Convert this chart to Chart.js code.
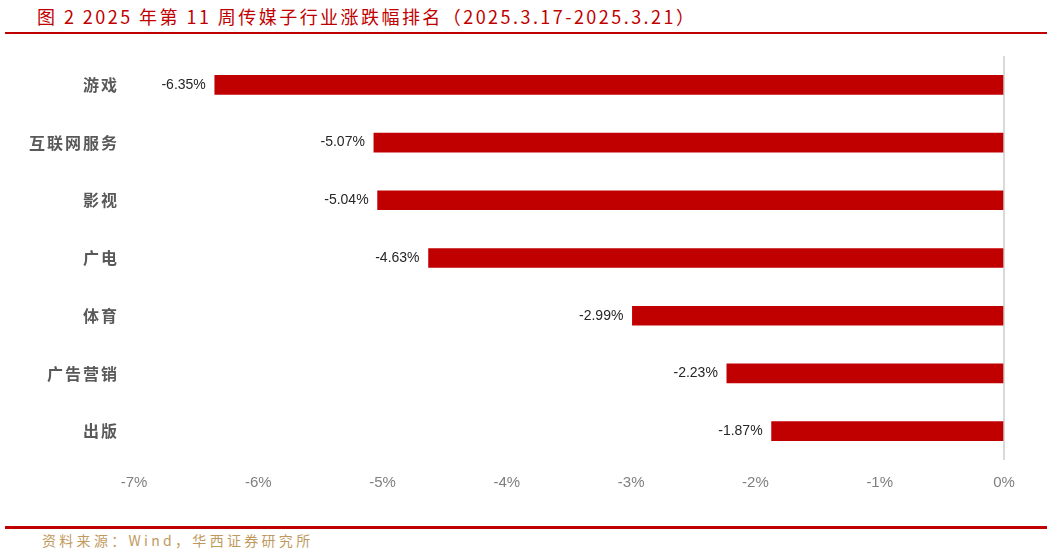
<!DOCTYPE html>
<html lang="zh">
<head>
    <meta charset="UTF-8" />
    <title>2025年第11周传媒子行业涨跌幅排名</title>
    <script src="https://cdn.jsdelivr.net/npm/chart.js"></script>
    <style>
        html, body {
            margin: 0;
            padding: 0;
            background: #fff;
            width: 1053px;
            height: 554px;
            overflow: hidden;
            position: relative;
            font-family: "Noto Sans CJK SC", sans-serif;
        }
        .title {
            position: absolute;
            left: 37px;
            top: 4px;
            font-size: 18px;
            letter-spacing: 2.45px;
            color: #C00000;
            white-space: nowrap;
            line-height: 24px;
        }
        .line-top {
            position: absolute;
            left: 5px;
            top: 32px;
            width: 1042px;
            height: 2px;
            background: #C00000;
        }
        .line-bottom {
            position: absolute;
            left: 5px;
            top: 526px;
            width: 1042px;
            height: 3px;
            background: #C00000;
        }
        .source {
            position: absolute;
            left: 42px;
            top: 530px;
            font-size: 14px;
            letter-spacing: 3.3px;
            color: #BF9A5E;
            white-space: nowrap;
            line-height: 20px;
        }
        .chart-box {
            position: absolute;
            left: 0;
            top: 40px;
            width: 1053px;
            height: 470px;
        }
    </style>
</head>
<body>
    <div class="title">图 2 2025 年第 11 周传媒子行业涨跌幅排名（2025.3.17-2025.3.21）</div>
    <div class="line-top"></div>
    <div class="chart-box"><canvas id="chart"></canvas></div>
    <div class="line-bottom"></div>
    <div class="source">资料来源：Wind，华西证券研究所</div>

    <script>
        const categories = ["游戏", "互联网服务", "影视", "广电", "体育", "广告营销", "出版"];
        const changes = [-6.35, -5.07, -5.04, -4.63, -2.99, -2.23, -1.87];
        const xTicks = [-7, -6, -5, -4, -3, -2, -1, 0];

        const narrow = "'Liberation Sans Narrow', 'Arial Narrow', sans-serif";

        // value labels left of each bar end, category names with some letter spacing
        const barText = {
            id: "barText",
            afterDatasetsDraw(chart) {
                const ctx = chart.ctx;
                const meta = chart.getDatasetMeta(0);
                ctx.save();
                ctx.textBaseline = "middle";
                ctx.textAlign = "right";
                ctx.font = "14px " + narrow;
                ctx.fillStyle = "#262626";
                meta.data.forEach((bar, i) => {
                    ctx.fillText(changes[i].toFixed(2) + "%", bar.x - 9, bar.y);
                });
                ctx.font = "bold 16px 'Noto Sans CJK SC', sans-serif";
                ctx.fillStyle = "#595959";
                ctx.letterSpacing = "2px";
                meta.data.forEach((bar, i) => {
                    ctx.fillText(categories[i], chart.chartArea.left - 15, bar.y);
                });
                ctx.restore();
            }
        };

        new Chart(document.getElementById("chart"), {
            type: "bar",
            data: {
                labels: categories,
                datasets: [{
                    data: changes,
                    backgroundColor: "#C00000",
                    barThickness: 19
                }]
            },
            options: {
                indexAxis: "y",
                responsive: true,
                maintainAspectRatio: false,
                animation: false,
                layout: { padding: { top: 16, right: 49, bottom: 10, left: 0 } },
                plugins: {
                    legend: { display: false },
                    tooltip: { enabled: false }
                },
                scales: {
                    x: {
                        min: -7,
                        max: 0,
                        afterBuildTicks(scale) {
                            scale.ticks = xTicks.map(v => ({ value: v }));
                        },
                        afterFit(scale) { scale.height = 40; },
                        grid: {
                            color: c => (c.tick && c.tick.value === 0) ? "#D9D9D9" : "rgba(0,0,0,0)",
                            lineWidth: 2,
                            drawTicks: false
                        },
                        border: { display: false },
                        ticks: {
                            padding: 14,
                            color: "#7F7F7F",
                            font: { size: 15, family: narrow },
                            callback: v => v + "%"
                        }
                    },
                    y: {
                        afterFit(scale) { scale.width = 134; },
                        grid: { display: false, drawTicks: false },
                        border: { display: false },
                        ticks: { display: false }
                    }
                }
            },
            plugins: [barText]
        });
    </script>
</body>
</html>
